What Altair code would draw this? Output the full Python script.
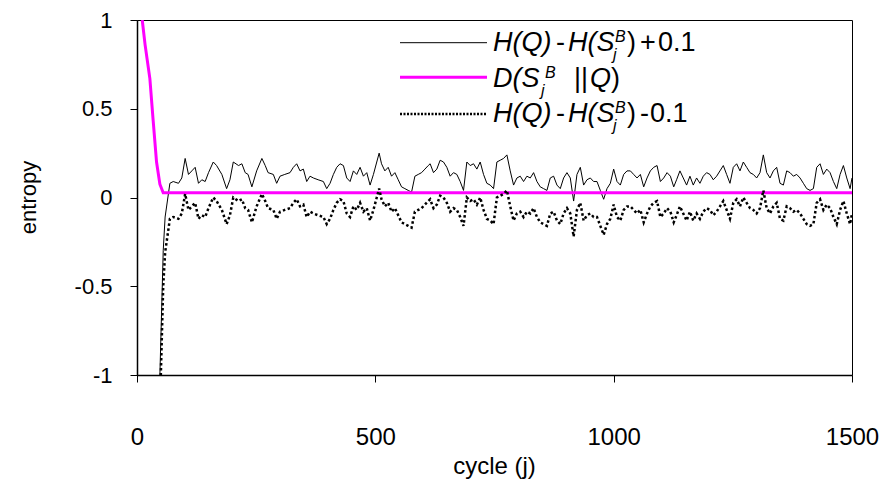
import altair as alt
import pandas as pd

# ---- data ----
cycle = [48, 55, 59, 69, 76, 87, 94, 101, 108, 115, 122, 129, 136, 143, 150, 160, 167, 178, 188, 195,
         202, 213, 220, 227, 233, 241, 251, 262, 269, 275, 286, 293, 300, 310, 321, 328, 335, 342, 349, 356,
         363, 370, 380, 391, 398, 405, 412, 419, 426, 433, 440, 447, 454, 461, 468, 475, 482, 489, 496, 503,
         508, 513, 520, 527, 534, 541, 548, 555, 562, 569, 576, 583, 590, 597, 604, 611, 615, 622, 629, 636,
         643, 650, 657, 664, 671, 678, 685, 692, 699, 706, 713, 720, 727, 734, 741, 748, 755, 762, 769, 776,
         783, 790, 797, 804, 811, 818, 825, 832, 839, 846, 853, 860, 867, 874, 881, 888, 895, 902, 909, 916,
         923, 930, 937, 944, 951, 958, 965, 972, 979, 986, 993, 1000, 1007, 1014, 1021, 1028, 1035, 1042, 1049, 1056,
         1063, 1070, 1077, 1084, 1091, 1098, 1105, 1112, 1119, 1126, 1132, 1139, 1146, 1153, 1160, 1167, 1174, 1181, 1188, 1195,
         1202, 1209, 1216, 1223, 1230, 1237, 1244, 1251, 1258, 1265, 1272, 1279, 1286, 1293, 1300, 1307, 1314, 1321, 1328, 1335,
         1342, 1349, 1356, 1363, 1370, 1377, 1384, 1391, 1398, 1405, 1412, 1419, 1426, 1433, 1440, 1447, 1454, 1461, 1468, 1475,
         1482, 1489, 1496, 1500]

# H(Q) - H(S_j^B)
h_diff = [-1.10, -0.40, -0.21, -0.02, -0.01, -0.02, 0.01, 0.12, 0.03, 0.05, 0.07, -0.02, 0.00, -0.01, 0.04, 0.10, 0.08, 0.03, -0.05, 0.00,
          0.10, 0.08, 0.09, 0.04, 0.03, -0.04, 0.05, 0.12, 0.08, 0.04, 0.03, -0.02, 0.02, 0.03, 0.04, 0.07, 0.09, 0.05, 0.06, -0.01,
          0.02, 0.01, 0.00, -0.01, -0.05, -0.02, 0.03, 0.07, 0.09, 0.08, 0.01, -0.01, 0.05, 0.03, 0.07, 0.02, 0.04, -0.03, 0.03, 0.10,
          0.15, 0.09, 0.05, 0.07, 0.02, 0.04, 0.00, -0.04, -0.05, -0.06, -0.07, 0.02, 0.03, 0.04, 0.06, 0.08, 0.09, 0.04, 0.06, 0.11,
          0.10, 0.07, 0.02, 0.04, 0.03, -0.01, -0.06, 0.10, 0.08, 0.09, 0.06, 0.10, 0.03, -0.02, -0.03, -0.05, 0.10, 0.11, 0.12, 0.14,
          0.05, -0.03, 0.01, 0.02, -0.01, 0.02, 0.01, 0.04, -0.01, -0.04, -0.05, -0.06, 0.01, 0.02, -0.03, -0.05, 0.01, 0.04, 0.01, -0.12,
          0.03, 0.07, -0.03, 0.00, 0.01, -0.01, -0.01, -0.06, -0.11, -0.05, -0.02, 0.06, -0.01, -0.03, 0.03, 0.05, 0.05, 0.03, 0.01, 0.03,
          -0.04, 0.01, 0.05, 0.07, 0.08, -0.01, 0.01, 0.04, 0.02, -0.04, 0.00, 0.05, 0.01, -0.03, 0.02, -0.03, 0.01, -0.02, 0.02, 0.04,
          0.03, 0.00, 0.02, 0.05, 0.08, 0.03, -0.02, 0.07, 0.09, 0.05, 0.10, 0.07, 0.04, 0.03, 0.01, 0.04, 0.14, 0.04, 0.01, 0.05,
          0.07, -0.02, -0.03, 0.05, 0.04, 0.02, 0.03, 0.01, -0.02, -0.05, -0.06, -0.05, 0.07, 0.09, 0.03, 0.06, 0.04, -0.01, -0.05, 0.03,
          0.08, 0.01, -0.05, 0.01]

# D(S_j^B || Q)
kl_cycle = [11, 17, 27, 34, 41, 48, 55, 1500]
kl_value = [1.00, 0.86, 0.67, 0.43, 0.20, 0.075, 0.027, 0.027]

x_ticks = [0, 500, 1000, 1500]
y_ticks = [-1, -0.5, 0, 0.5, 1]

FONT = "Liberation Sans"

df = pd.DataFrame({"j": cycle, "h": h_diff})
df_kl = pd.DataFrame({"j": kl_cycle, "d": kl_value})

xscale = alt.Scale(domain=[0, 1500], nice=False, zero=False)
yscale = alt.Scale(domain=[-1, 1], nice=False, zero=False)

x_axis = alt.Axis(values=x_ticks, title="cycle (j)", grid=False, labelFontSize=24, labelFont=FONT,
                  titleFont=FONT, titleFontSize=24, titleFontWeight="normal", tickSize=7,
                  labelPadding=43, titleX=357, titleY=91, titleAlign="center", titleBaseline="middle",
                  labelExpr="'' + datum.value",
                  domainColor="black", tickColor="black", labelColor="black", titleColor="black",
                  domainWidth=1.5, labelFlush=False)
y_axis = alt.Axis(values=y_ticks, title="entropy", grid=False, labelFontSize=22, labelFont=FONT,
                  titleFont=FONT, titleFontSize=22, titleFontWeight="normal", tickSize=7,
                  labelPadding=18, titleX=-109, titleY=177, titleAngle=-90, titleAlign="center",
                  titleBaseline="middle", labelExpr="'' + datum.value",
                  domainColor="black", tickColor="black", labelColor="black", titleColor="black",
                  domainWidth=1.5, labelFlush=False)

X = alt.X("j:Q", scale=xscale, axis=x_axis, title="cycle (j)")

base = alt.Chart(df).transform_calculate(upper="datum.h + 0.1", lower="datum.h - 0.1")

upper = base.mark_line(color="black", strokeWidth=1, clip=True).encode(
    x=X, y=alt.Y("upper:Q", scale=yscale, axis=y_axis, title="entropy"),
)
lower = base.mark_line(color="black", strokeWidth=2.5, strokeDash=[2.5, 2.5], clip=True).encode(
    x=X, y=alt.Y("lower:Q", scale=yscale, axis=y_axis, title="entropy"),
)
kl = alt.Chart(df_kl).mark_line(color="#FF00FF", strokeWidth=3, clip=True).encode(
    x=X, y=alt.Y("d:Q", scale=yscale, axis=y_axis, title="entropy"),
)

one = alt.Data(values=[{}])


def txt(s, x, y, size=27, italic=False):
    return alt.Chart(one).mark_text(
        font=FONT, fontSize=size, fontStyle="italic" if italic else "normal",
        align="left", baseline="alphabetic", color="black"
    ).encode(x=alt.value(x), y=alt.value(y), text=alt.value(s))


def rule(y, color, width, dash=None):
    kw = dict(color=color, strokeWidth=width)
    if dash:
        kw["strokeDash"] = dash
    return alt.Chart(one).mark_rule(**kw).encode(x=alt.value(263), x2=alt.value(350), y=alt.value(y))


# legend (positions relative to the plot's top-left corner)
legend = [
    rule(22.7, "black", 1),
    rule(57.3, "#FF00FF", 3),
    rule(94, "black", 2.5, [2, 1.5]),
]

rows = [(30.5, "+"), (101.5, "-")]
for b, sign in rows:
    legend += [
        txt("H(Q)", 356, b, italic=True),
        txt("-", 419, b),
        txt("H(S", 431, b, italic=True),
        txt("B", 478, b - 9, size=16, italic=True),
        txt("j", 476, b + 9.5, size=16, italic=True),
        txt(")", 490, b),
        txt(sign, 503, b),
        txt("0.1", 521 if sign == "+" else 513, b),
    ]
b2 = 66.5
legend += [
    txt("D(S", 356, b2, italic=True),
    txt("B", 408, b2 - 9, size=16, italic=True),
    txt("j", 404, b2 + 9.5, size=16, italic=True),
    txt("||", 437, b2),
    txt("Q", 453, b2, italic=True),
    txt(")", 474, b2),
]

chart = alt.layer(upper, kl, lower, *legend).properties(
    width=715, height=355,
    autosize=alt.AutoSizeParams(type="none"),
    padding={"left": 129, "top": 12, "right": 29, "bottom": 104},
).configure(background="white").configure_view(stroke="black", strokeWidth=1)

chart.save("out.html", embed_options={"renderer": "svg", "actions": False})
